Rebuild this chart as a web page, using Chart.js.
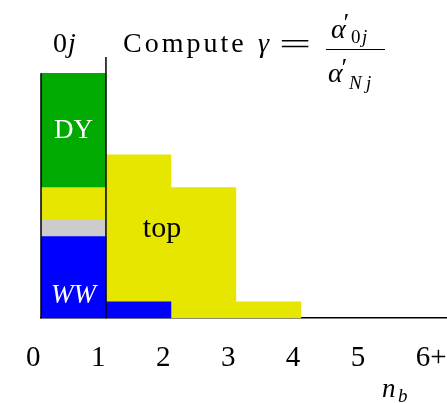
<!DOCTYPE html>
<html>
<head>
<meta charset="utf-8">
<script src="https://cdn.jsdelivr.net/npm/chart.js@4.4.0/dist/chart.umd.min.js"></script>
<style>
  body { margin: 0; background: #fff; }
  #chart-nb { display: block; }
</style>
</head>
<body>
<canvas id="chart-nb" width="447" height="403"></canvas>
<script>
// bin centres for n_b = 0,1,2,3 and the stacked contents of each bin
var binCenters = [0.5, 1.5, 2.5, 3.5];
var wwCounts    = [5, 1, null, null];
var otherCounts = [1, null, null, null];
var topCounts   = [2, 9, 8, 1];
var dyCounts    = [7, null, null, null];

var tickValues = [0, 1, 2, 3, 4, 5, 6];
var tickLabels = ['0', '1', '2', '3', '4', '5', '6+'];

var serif = '"Liberation Serif", "DejaVu Serif", serif';

function toPoints(arr) {
  return binCenters.map(function (x, i) { return { x: x, y: arr[i] }; });
}

// total height of the 0j bin, used for its outline
var bin0Total = [wwCounts, otherCounts, topCounts, dyCounts].reduce(function (s, a) {
  return s + (a[0] || 0);
}, 0);

function txt(ctx, s, x, y, font, color, align) {
  ctx.font = font;
  ctx.fillStyle = color || '#000';
  ctx.textAlign = align || 'left';
  ctx.textBaseline = 'alphabetic';
  ctx.fillText(s, x, y);
}

var labelsPlugin = {
  id: 'labels',
  afterDraw: function (chart) {
    var ctx = chart.ctx;
    var x = chart.scales.x, y = chart.scales.y;
    ctx.save();

    // black edges of the 0j bin
    ctx.strokeStyle = '#000';
    ctx.lineWidth = 1.5;
    ctx.beginPath();
    ctx.moveTo(x.getPixelForValue(0), y.getPixelForValue(0));
    ctx.lineTo(x.getPixelForValue(0), y.getPixelForValue(bin0Total));
    ctx.moveTo(x.getPixelForValue(1), y.getPixelForValue(0));
    ctx.lineTo(x.getPixelForValue(1), chart.chartArea.top);
    ctx.stroke();

    // labels inside the bars
    txt(ctx, 'DY', x.getPixelForValue(0.5), 138, '27px ' + serif, '#fff', 'center');
    txt(ctx, 'WW', x.getPixelForValue(0.5), 303, 'italic 27px ' + serif, '#fff', 'center');
    txt(ctx, 'top', 162, 237, '30px ' + serif, '#000', 'center');

    // header
    txt(ctx, '0', 53, 52, '28px ' + serif);
    txt(ctx, 'j', 68, 52, 'italic 28px ' + serif);
    ctx.letterSpacing = '3px';
    txt(ctx, 'Compute', 123, 52, '28px ' + serif);
    ctx.letterSpacing = '0px';
    txt(ctx, '\u03b3', 258, 52, 'italic 28px ' + serif);

    // wide equals sign
    ctx.save();
    ctx.translate(295, 54);
    ctx.scale(1.9, 1);
    txt(ctx, '=', 0, 0, '30px ' + serif, '#000', 'center');
    ctx.restore();

    ctx.lineWidth = 1.2;
    ctx.beginPath();
    ctx.moveTo(326, 49.5);
    ctx.lineTo(385, 49.5);
    ctx.stroke();

    txt(ctx, '\u03b1', 331, 38, 'italic 28px ' + serif);
    txt(ctx, '\u2032', 342, 31, 'italic 26px ' + serif);
    txt(ctx, '0', 351, 43, '19px ' + serif);
    txt(ctx, 'j', 362, 43, 'italic 19px ' + serif);

    txt(ctx, '\u03b1', 328, 82, 'italic 28px ' + serif);
    txt(ctx, '\u2032', 340, 76, 'italic 26px ' + serif);
    txt(ctx, 'N', 349, 89, 'italic 19px ' + serif);
    txt(ctx, 'j', 366, 89, 'italic 19px ' + serif);

    // axis title
    txt(ctx, 'n', 382, 397, 'italic 27px ' + serif);
    txt(ctx, 'b', 398, 402, 'italic 19px ' + serif);

    ctx.restore();
  }
};

var ctx = document.getElementById('chart-nb').getContext('2d');
var chart = new Chart(ctx, {
  type: 'bar',
  data: {
    datasets: [
      { label: 'WW', data: toPoints(wwCounts), backgroundColor: '#0000ff' },
      { label: 'other', data: toPoints(otherCounts), backgroundColor: '#cccccc' },
      { label: 'top', data: toPoints(topCounts), backgroundColor: '#e6e600' },
      { label: 'DY', data: toPoints(dyCounts), backgroundColor: '#00aa00' }
    ]
  },
  options: {
    responsive: false,
    animation: false,
    devicePixelRatio: 1,
    datasets: {
      bar: { barPercentage: 1, categoryPercentage: 1, borderWidth: 0 }
    },
    layout: { padding: { left: 41, top: 57, right: 0, bottom: 4 } },
    scales: {
      x: {
        type: 'linear',
        min: 0,
        max: 6.25,
        stacked: true,
        offset: false,
        grid: { display: false, drawTicks: false },
        border: { display: true, color: '#000', width: 1.5 },
        afterBuildTicks: function (s) {
          s.ticks = tickValues.map(function (v) { return { value: v }; });
        },
        afterFit: function (s) {
          s.paddingLeft = 0;
          s.paddingRight = 0;
        },
        ticks: {
          color: '#000',
          font: { family: serif, size: 29 },
          padding: 23,
          align: 'start',
          labelOffset: -15,
          maxRotation: 0,
          autoSkip: false,
          callback: function (value, index) { return tickLabels[index]; }
        }
      },
      y: {
        display: false,
        stacked: true,
        min: 0,
        max: 16
      }
    },
    plugins: {
      legend: { display: false },
      tooltip: { enabled: false }
    }
  },
  plugins: [labelsPlugin]
});
</script>
</body>
</html>
